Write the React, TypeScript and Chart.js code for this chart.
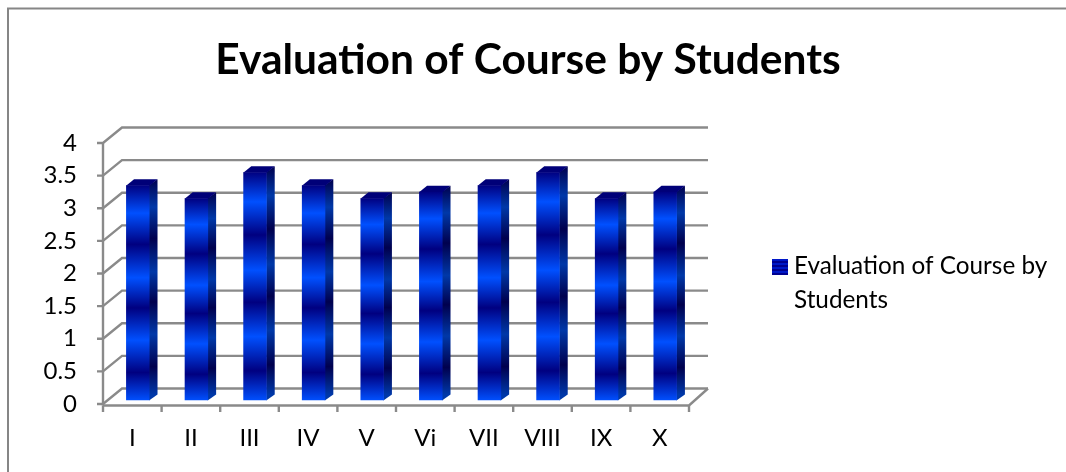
import React, { useEffect, useRef } from "react";
import { Chart, registerables } from "chart.js";

Chart.register(...registerables);

const categories = ["I", "II", "III", "IV", "V", "Vi", "VII", "VIII", "IX", "X"];
const seriesName = "Evaluation of Course by Students";
const seriesValues = [3.3, 3.1, 3.5, 3.3, 3.1, 3.2, 3.3, 3.5, 3.1, 3.2];
const gridStops = [0, 0.5, 1, 1.5, 2, 2.5, 3, 3.5, 4];
const legendLines = ["Evaluation of Course by", "Students"];

const FONT = "Lato, 'Open Sans', sans-serif";
const GRID = "#8a8a8a";
const DX = 19, DY = 15.5;      // wall depth
const BX = 5.5, BY = 3.5;      // bar front offset from the front plane
const SX = 8, SY = 6;          // bar depth

function bandGradient(ctx: CanvasRenderingContext2D, top: number, bottom: number, bright: string, dark: string) {
  const g = ctx.createLinearGradient(0, top, 0, bottom);
  const stops: [number, string][] = [
    [0, dark], [0.13, bright], [0.275, dark], [0.43, bright],
    [0.57, dark], [0.72, bright], [0.87, dark], [1, bright],
  ];
  stops.forEach(([p, c]) => g.addColorStop(p, c));
  return g;
}

const wallsAndBars = {
  id: "wallsAndBars",
  beforeDatasetsDraw(chart: any) {
    const { ctx, scales } = chart;
    const x = scales.x, y = scales.y;
    const left = x.left, right = x.right, y0 = y.getPixelForValue(0);
    ctx.save();
    ctx.strokeStyle = GRID;
    ctx.lineWidth = 2.4;
    ctx.lineCap = "butt";
    // back wall lines and side wall diagonals
    gridStops.forEach((v) => {
      const py = y.getPixelForValue(v);
      ctx.beginPath();
      ctx.moveTo(left - 6, py);
      ctx.lineTo(left, py);
      ctx.lineTo(left + DX, py - DY);
      ctx.lineTo(right + DX, py - DY);
      ctx.stroke();
    });
    // front axis lines and floor edge
    ctx.beginPath();
    ctx.moveTo(left, y.getPixelForValue(4));
    ctx.lineTo(left, y0 + 1.5);
    ctx.stroke();
    ctx.beginPath();
    ctx.moveTo(left, y0 + 1.5);
    ctx.lineTo(right, y0 + 1.5);
    ctx.lineTo(right + DX, y0 - DY);
    ctx.stroke();
    categories.forEach((_, i) => {
      const px = left + ((right - left) * i) / categories.length;
      ctx.beginPath();
      ctx.moveTo(px, y0 + 1.5);
      ctx.lineTo(px, y0 + 8);
      ctx.stroke();
    });
    ctx.beginPath();
    ctx.moveTo(right, y0 + 1.5);
    ctx.lineTo(right, y0 + 8);
    ctx.stroke();
    ctx.restore();

    // side and top of every bar, from the bar elements themselves
    const meta = chart.getDatasetMeta(0);
    ctx.save();
    ctx.translate(BX, -BY);
    meta.data.forEach((bar: any) => {
      const l = bar.x - bar.width / 2, r = bar.x + bar.width / 2;
      const t = bar.y, b = bar.base;
      ctx.fillStyle = bandGradient(ctx, t - SY, b - SY, "#0038a8", "#00004e");
      ctx.beginPath();
      ctx.moveTo(r - 0.5, t);
      ctx.lineTo(r + SX, t - SY);
      ctx.lineTo(r + SX, b - SY);
      ctx.lineTo(r - 0.5, b);
      ctx.closePath();
      ctx.fill();
      ctx.fillStyle = "#000078";
      ctx.beginPath();
      ctx.moveTo(l, t + 0.5);
      ctx.lineTo(l + SX, t - SY);
      ctx.lineTo(r + SX, t - SY);
      ctx.lineTo(r, t + 0.5);
      ctx.closePath();
      ctx.fill();
    });
    // the bars proper are drawn by Chart.js inside this same offset
  },
  afterDatasetsDraw(chart: any) {
    chart.ctx.restore();
  },
};

const frameAndLegend = {
  id: "frameAndLegend",
  beforeDraw(chart: any) {
    const { ctx } = chart;
    ctx.save();
    ctx.strokeStyle = "#868686";
    ctx.lineWidth = 2;
    ctx.beginPath();
    ctx.moveTo(8, 472);
    ctx.lineTo(8, 8.5);
    ctx.lineTo(1066, 8.5);
    ctx.stroke();
    ctx.restore();
  },
  afterDraw(chart: any) {
    const { ctx } = chart;
    ctx.save();
    ctx.fillStyle = "#000";
    ctx.textBaseline = "alphabetic";
    ctx.textAlign = "center";
    ctx.font = `bold 42.5px ${FONT}`;
    ctx.fillText(seriesName, 528, 74);
    ctx.textAlign = "left";
    const g = ctx.createLinearGradient(0, 259, 0, 275);
    for (let i = 0; i < 4; i++) {
      g.addColorStop(i / 4, "#0018c8");
      g.addColorStop((i + 0.5) / 4, "#0018c8");
      g.addColorStop((i + 0.5) / 4, "#000090");
      g.addColorStop((i + 1) / 4, "#000090");
    }
    ctx.fillStyle = g;
    ctx.fillRect(772, 259, 16, 16);
    ctx.fillStyle = "#000";
    ctx.font = `24.3px ${FONT}`;
    ctx.fillText(legendLines[0], 794, 274);
    ctx.fillText(legendLines[1], 794, 308);
    ctx.restore();
  },
};

export default function App() {
  const ref = useRef<HTMLCanvasElement>(null);
  useEffect(() => {
    const canvas = ref.current!;
    const chart = new Chart(canvas, {
      type: "bar",
      data: {
        labels: categories,
        datasets: [
          {
            label: seriesName,
            data: seriesValues,
            barPercentage: 0.4,
            categoryPercentage: 1,
            backgroundColor: (c: any) => {
              const y = c.chart.scales.y;
              if (!y || c.raw === undefined) return "#0044ee";
              const t = y.getPixelForValue(c.raw);
              const b = y.getPixelForValue(0);
              if (!isFinite(t) || !isFinite(b)) return "#0044ee";
              return bandGradient(c.chart.ctx, t, b, "#0050ff", "#000080");
            },
            borderWidth: 0,
          },
        ],
      },
      options: {
        responsive: false,
        animation: false,
        layout: { padding: { left: 41, right: 377, top: 143, bottom: 0 } },
        plugins: {
          legend: { display: false },
          tooltip: { enabled: false },
          title: { display: false },
        },
        scales: {
          x: {
            afterFit: (s: any) => { s.height = 68; },
            grid: { display: false },
            border: { display: false },
            ticks: { color: "#000", font: { family: FONT, size: 24 }, padding: 12, maxRotation: 0 },
          },
          y: {
            min: 0,
            max: 4,
            afterFit: (s: any) => { s.width = 62; },
            grid: { display: false },
            border: { display: false },
            ticks: {
              stepSize: 0.5,
              color: "#000",
              font: { family: FONT, size: 24 },
              padding: 18,
              callback: (v: any) => String(v),
            },
          },
        },
      },
      plugins: [frameAndLegend, wallsAndBars],
    } as any);
    return () => chart.destroy();
  }, []);
  return (
    <canvas
      ref={ref}
      width={1066}
      height={472}
      style={{ position: "fixed", left: 0, top: 0, display: "block", background: "#fff" }}
    />
  );
}
